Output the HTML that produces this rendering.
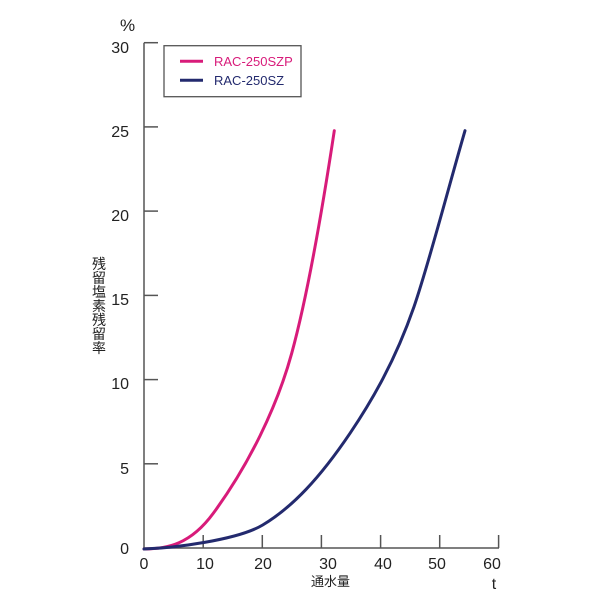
<!DOCTYPE html>
<html><head><meta charset="utf-8"><style>
html,body{margin:0;padding:0;background:#fff;}
svg{display:block;}
text{font-family:"Liberation Sans","Noto Sans CJK JP",sans-serif;}
</style></head><body>
<svg width="600" height="600" viewBox="0 0 600 600" xmlns="http://www.w3.org/2000/svg">
<rect width="600" height="600" fill="#fff"/>
<!-- axes -->
<g stroke="#555" stroke-width="1.5" fill="none">
<line x1="144" y1="42.7" x2="144" y2="548.5"/>
<line x1="143.3" y1="548" x2="499" y2="548"/>
<line x1="144" y1="42.7" x2="158" y2="42.7"/>
<line x1="144" y1="126.9" x2="158" y2="126.9"/>
<line x1="144" y1="211.1" x2="158" y2="211.1"/>
<line x1="144" y1="295.4" x2="158" y2="295.4"/>
<line x1="144" y1="379.6" x2="158" y2="379.6"/>
<line x1="144" y1="463.8" x2="158" y2="463.8"/>
<line x1="203.2" y1="548" x2="203.2" y2="535"/>
<line x1="262.3" y1="548" x2="262.3" y2="535"/>
<line x1="321.4" y1="548" x2="321.4" y2="535"/>
<line x1="380.6" y1="548" x2="380.6" y2="535"/>
<line x1="439.7" y1="548" x2="439.7" y2="535"/>
<line x1="498.6" y1="548" x2="498.6" y2="535"/>
</g>
<!-- y tick labels -->
<g font-size="16" fill="#222" text-anchor="end">
<text x="129" y="53">30</text>
<text x="129" y="137">25</text>
<text x="129" y="221">20</text>
<text x="129" y="305">15</text>
<text x="129" y="389">10</text>
<text x="129" y="474">5</text>
<text x="129" y="554">0</text>
</g>
<text x="120" y="31" font-size="17" fill="#222">%</text>
<!-- x tick labels -->
<g font-size="16" fill="#222" text-anchor="middle">
<text x="144" y="569">0</text>
<text x="205" y="569">10</text>
<text x="263" y="569">20</text>
<text x="328" y="569">30</text>
<text x="383" y="569">40</text>
<text x="437" y="569">50</text>
<text x="492" y="569">60</text>
</g>
<text x="330.5" y="586" font-size="13" fill="#222" text-anchor="middle">通水量</text>
<text x="494" y="589" font-size="16" fill="#222" text-anchor="middle">t</text>
<!-- y axis label -->
<g font-size="14" fill="#222" text-anchor="middle">
<text x="99" y="269">残</text>
<text x="99" y="283">留</text>
<text x="99" y="297">塩</text>
<text x="99" y="311">素</text>
<text x="99" y="325">残</text>
<text x="99" y="339">留</text>
<text x="99" y="353">率</text>
</g>
<!-- legend -->
<rect x="164" y="45.7" width="137" height="51" fill="#fff" stroke="#555" stroke-width="1.3"/>
<line x1="180" y1="61.3" x2="203" y2="61.3" stroke="#d81b7a" stroke-width="3"/>
<line x1="180" y1="80.3" x2="203" y2="80.3" stroke="#232a6e" stroke-width="3"/>
<text x="214" y="66" font-size="13" fill="#d81b7a">RAC-250SZP</text>
<text x="214" y="85" font-size="13" fill="#232a6e">RAC-250SZ</text>
<!-- curves -->
<path d="M144,549 C167,549 190.3,544.7 213.3,513.3 C248.3,465.5 276.7,407.9 291.7,353.3 C305.7,302.3 320.3,223.1 334.3,130.7" fill="none" stroke="#d81b7a" stroke-width="3" stroke-linecap="round"/>
<path d="M144,549 C174,548 237.7,540 262.7,525 C292.7,507 320,477.7 350,433.3 C372,400.7 395,361.2 414,306.7 C428,266.5 447,192.8 465,130.7" fill="none" stroke="#232a6e" stroke-width="3" stroke-linecap="round"/>
</svg>
</body></html>
